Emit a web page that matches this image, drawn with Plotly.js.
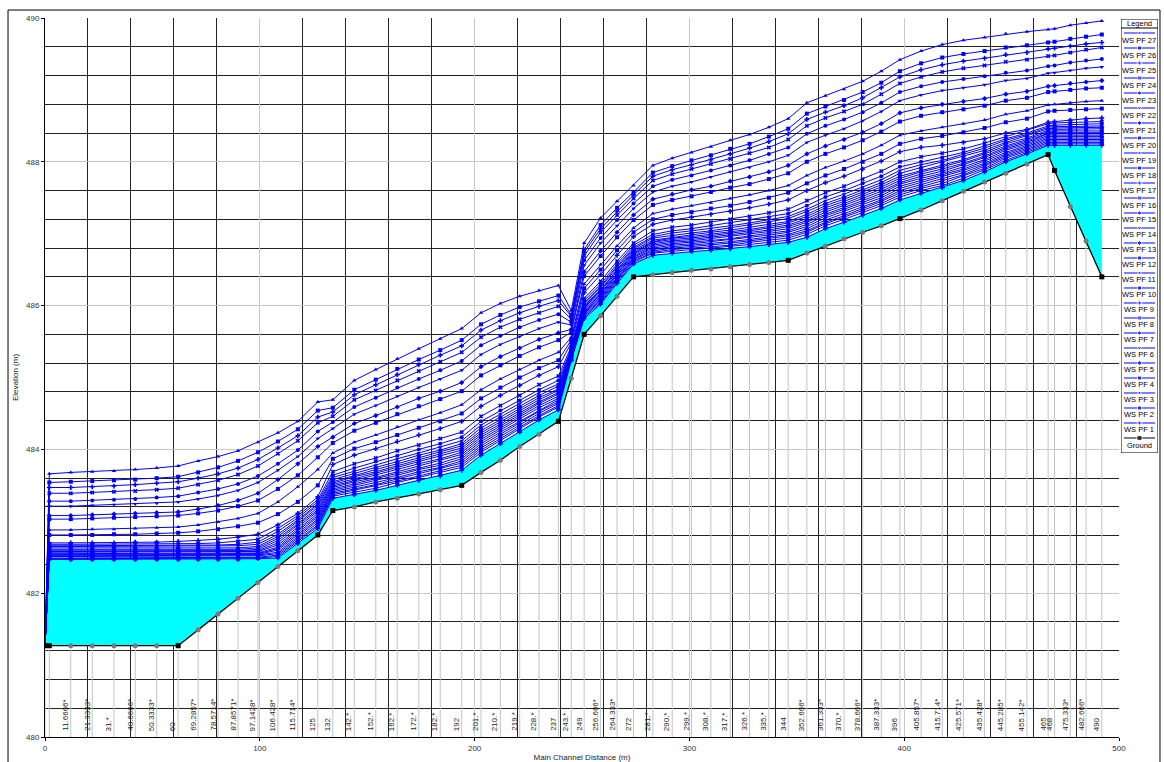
<!DOCTYPE html>
<html><head><meta charset="utf-8">
<script src="https://cdn.plot.ly/plotly-3.0.1.min.js"></script>
<style>html,body{margin:0;padding:0;background:#fff;}#chart{width:1164px;height:762px;}</style>
</head><body><div id="chart"></div>
<script>
// River stations (labels) and their main channel distances (m)
const stationLabels = ['', '', '11.6666*', '21.3333*', '31.*', '40.6666*', '50.3333*', '60', '69.2857*', '78.5714*', '87.8571*', '97.1428*', '106.428*', '115.714*', '125', '132', '142.*', '152.*', '162.*', '172.*', '182.*', '192', '201.*', '210.*', '219.*', '228.*', '237', '243.*', '249', '256.666*', '264.333*', '272', '281.*', '290.*', '299.*', '308.*', '317.*', '326.*', '335.*', '344', '352.666*', '361.333*', '370.*', '378.666*', '387.333*', '396', '405.857*', '415.714*', '425.571*', '435.428*', '445.285*', '455.142*', '465', '468', '475.333*', '482.666*', '490'];
const distances = [0, 2, 12, 22, 32.1, 42, 52, 62, 71.29, 80.57, 89.86, 99.14, 108.43, 117.71, 127, 134, 144, 154, 164, 174, 184, 194, 203, 212, 221, 230, 239, 245, 251, 258.67, 266.33, 274, 283, 292, 301, 310, 319, 328, 337, 346, 354.67, 363.33, 372, 380.67, 389.33, 398, 407.86, 417.71, 427.57, 437.43, 447.29, 457.14, 467, 470, 477.33, 484.67, 492];
const ground = [481.27, 481.27, 481.27, 481.27, 481.27, 481.27, 481.27, 481.27, 481.49, 481.71, 481.93, 482.15, 482.37, 482.59, 482.81, 483.15, 483.20, 483.27, 483.32, 483.38, 483.44, 483.50, 483.68, 483.85, 484.04, 484.21, 484.39, 484.99, 485.60, 485.86, 486.13, 486.40, 486.43, 486.46, 486.49, 486.51, 486.54, 486.57, 486.60, 486.63, 486.73, 486.83, 486.93, 487.02, 487.11, 487.21, 487.33, 487.46, 487.59, 487.72, 487.84, 487.97, 488.10, 487.88, 487.38, 486.90, 486.40];

// Water surface elevations (m) for each profile
const wsPF1 = [481.27, 482.47, 482.47, 482.47, 482.47, 482.47, 482.47, 482.47, 482.47, 482.47, 482.47, 482.48, 482.49, 482.69, 482.90,
 483.32, 483.37, 483.43, 483.50, 483.57, 483.63, 483.71, 483.92, 484.08, 484.24, 484.41, 484.55, 485.24, 485.82, 486.02, 486.31, 486.58,
 486.70, 486.73, 486.75, 486.77, 486.79, 486.82, 486.85, 486.88, 486.95, 487.07, 487.16, 487.26, 487.35, 487.47, 487.56, 487.64, 487.74,
 487.86, 488.00, 488.11, 488.23, 488.23, 488.23, 488.23, 488.23];
const wsPF2 = [481.27, 482.48, 482.48, 482.48, 482.48, 482.48, 482.48, 482.48, 482.48, 482.48, 482.48, 482.49, 482.51, 482.72, 482.93,
 483.35, 483.40, 483.46, 483.54, 483.61, 483.67, 483.75, 483.96, 484.12, 484.28, 484.45, 484.59, 485.25, 485.84, 486.04, 486.33, 486.60,
 486.73, 486.76, 486.78, 486.80, 486.82, 486.85, 486.88, 486.91, 486.99, 487.11, 487.20, 487.30, 487.39, 487.51, 487.60, 487.67, 487.77,
 487.89, 488.02, 488.13, 488.25, 488.25, 488.25, 488.25, 488.25];
const wsPF3 = [481.27, 482.49, 482.49, 482.49, 482.49, 482.49, 482.49, 482.49, 482.49, 482.49, 482.49, 482.50, 482.53, 482.74, 482.95,
 483.37, 483.43, 483.49, 483.56, 483.63, 483.70, 483.78, 483.99, 484.15, 484.31, 484.47, 484.61, 485.26, 485.86, 486.06, 486.35, 486.62,
 486.74, 486.78, 486.80, 486.82, 486.84, 486.88, 486.91, 486.94, 487.02, 487.14, 487.23, 487.33, 487.42, 487.54, 487.63, 487.70, 487.80,
 487.91, 488.05, 488.15, 488.27, 488.27, 488.27, 488.27, 488.27];
const wsPF4 = [481.27, 482.51, 482.51, 482.51, 482.51, 482.51, 482.51, 482.51, 482.51, 482.51, 482.51, 482.52, 482.55, 482.77, 482.98,
 483.39, 483.45, 483.51, 483.59, 483.66, 483.73, 483.81, 484.02, 484.18, 484.34, 484.50, 484.64, 485.28, 485.87, 486.08, 486.37, 486.64,
 486.76, 486.80, 486.82, 486.84, 486.87, 486.90, 486.93, 486.97, 487.04, 487.16, 487.25, 487.35, 487.45, 487.57, 487.65, 487.73, 487.82,
 487.94, 488.07, 488.17, 488.29, 488.29, 488.29, 488.29, 488.29];
const wsPF5 = [481.27, 482.52, 482.52, 482.52, 482.52, 482.52, 482.52, 482.52, 482.52, 482.52, 482.52, 482.53, 482.57, 482.79, 483.01,
 483.41, 483.47, 483.54, 483.61, 483.69, 483.75, 483.84, 484.05, 484.21, 484.36, 484.53, 484.66, 485.29, 485.89, 486.10, 486.38, 486.65,
 486.78, 486.82, 486.84, 486.86, 486.89, 486.92, 486.96, 486.99, 487.07, 487.19, 487.28, 487.38, 487.47, 487.60, 487.68, 487.76, 487.85,
 487.96, 488.09, 488.19, 488.31, 488.31, 488.31, 488.31, 488.31];
const wsPF6 = [481.27, 482.53, 482.53, 482.53, 482.53, 482.53, 482.53, 482.53, 482.53, 482.53, 482.53, 482.54, 482.60, 482.82, 483.03,
 483.43, 483.50, 483.56, 483.64, 483.72, 483.78, 483.87, 484.08, 484.24, 484.39, 484.55, 484.69, 485.30, 485.90, 486.12, 486.40, 486.67,
 486.80, 486.84, 486.86, 486.89, 486.91, 486.95, 486.98, 487.02, 487.10, 487.22, 487.31, 487.41, 487.50, 487.63, 487.71, 487.79, 487.88,
 487.98, 488.11, 488.21, 488.33, 488.33, 488.33, 488.33, 488.33];
const wsPF7 = [481.27, 482.54, 482.54, 482.54, 482.54, 482.54, 482.54, 482.54, 482.54, 482.54, 482.54, 482.55, 482.62, 482.84, 483.06,
 483.45, 483.52, 483.59, 483.67, 483.74, 483.81, 483.90, 484.11, 484.27, 484.42, 484.58, 484.71, 485.31, 485.92, 486.13, 486.42, 486.68,
 486.82, 486.86, 486.88, 486.91, 486.93, 486.97, 487.01, 487.04, 487.13, 487.25, 487.34, 487.44, 487.53, 487.66, 487.74, 487.81, 487.90,
 488.01, 488.13, 488.23, 488.35, 488.35, 488.35, 488.35, 488.35];
const wsPF8 = [481.27, 482.55, 482.55, 482.55, 482.55, 482.55, 482.55, 482.55, 482.55, 482.55, 482.55, 482.56, 482.64, 482.87, 483.08,
 483.47, 483.55, 483.61, 483.69, 483.77, 483.84, 483.93, 484.14, 484.30, 484.45, 484.61, 484.74, 485.32, 485.94, 486.15, 486.44, 486.70,
 486.84, 486.88, 486.90, 486.93, 486.96, 486.99, 487.03, 487.07, 487.16, 487.27, 487.36, 487.46, 487.56, 487.69, 487.77, 487.84, 487.93,
 488.03, 488.16, 488.25, 488.37, 488.37, 488.37, 488.37, 488.37];
const wsPF9 = [481.27, 482.57, 482.57, 482.57, 482.57, 482.57, 482.57, 482.57, 482.57, 482.57, 482.57, 482.58, 482.67, 482.89, 483.11,
 483.49, 483.57, 483.64, 483.72, 483.80, 483.87, 483.96, 484.17, 484.32, 484.48, 484.64, 484.77, 485.33, 485.95, 486.17, 486.45, 486.72,
 486.86, 486.90, 486.92, 486.95, 486.98, 487.02, 487.05, 487.10, 487.18, 487.30, 487.39, 487.49, 487.59, 487.71, 487.80, 487.87, 487.96,
 488.06, 488.18, 488.27, 488.39, 488.39, 488.39, 488.39, 488.39];
const wsPF10 = [481.27, 482.58, 482.58, 482.58, 482.58, 482.58, 482.58, 482.58, 482.58, 482.58, 482.58, 482.59, 482.70, 482.92, 483.14,
 483.51, 483.59, 483.66, 483.75, 483.83, 483.90, 483.99, 484.20, 484.35, 484.51, 484.66, 484.79, 485.34, 485.97, 486.19, 486.47, 486.73,
 486.88, 486.92, 486.94, 486.97, 487.00, 487.04, 487.08, 487.12, 487.21, 487.33, 487.42, 487.52, 487.62, 487.74, 487.83, 487.90, 487.98,
 488.08, 488.20, 488.29, 488.40, 488.41, 488.41, 488.41, 488.41];
const wsPF11 = [481.27, 482.59, 482.59, 482.59, 482.59, 482.59, 482.59, 482.59, 482.59, 482.59, 482.59, 482.61, 482.73, 482.95, 483.16,
 483.53, 483.62, 483.69, 483.77, 483.85, 483.93, 484.02, 484.23, 484.38, 484.53, 484.69, 484.82, 485.35, 485.98, 486.21, 486.49, 486.75,
 486.89, 486.94, 486.96, 486.99, 487.02, 487.06, 487.10, 487.15, 487.24, 487.36, 487.45, 487.55, 487.65, 487.77, 487.86, 487.93, 488.01,
 488.11, 488.22, 488.31, 488.42, 488.43, 488.43, 488.43, 488.43];
const wsPF12 = [481.27, 482.61, 482.61, 482.61, 482.61, 482.61, 482.61, 482.61, 482.61, 482.61, 482.61, 482.63, 482.76, 482.97, 483.19,
 483.55, 483.64, 483.72, 483.80, 483.88, 483.96, 484.05, 484.26, 484.41, 484.56, 484.72, 484.84, 485.36, 486.00, 486.22, 486.50, 486.77,
 486.91, 486.95, 486.99, 487.02, 487.05, 487.09, 487.13, 487.17, 487.27, 487.39, 487.48, 487.58, 487.68, 487.80, 487.88, 487.95, 488.03,
 488.13, 488.25, 488.33, 488.44, 488.45, 488.45, 488.46, 488.46];
const wsPF13 = [481.27, 482.63, 482.63, 482.63, 482.63, 482.63, 482.63, 482.63, 482.63, 482.63, 482.63, 482.65, 482.79, 483.00, 483.22,
 483.58, 483.67, 483.75, 483.83, 483.92, 483.99, 484.08, 484.30, 484.45, 484.60, 484.75, 484.88, 485.37, 486.02, 486.25, 486.53, 486.79,
 486.94, 486.98, 487.01, 487.04, 487.08, 487.12, 487.16, 487.21, 487.31, 487.42, 487.51, 487.61, 487.71, 487.84, 487.92, 487.99, 488.07,
 488.16, 488.27, 488.36, 488.46, 488.47, 488.47, 488.48, 488.48];
const wsPF14 = [481.27, 482.65, 482.65, 482.65, 482.65, 482.65, 482.65, 482.65, 482.65, 482.65, 482.66, 482.68, 482.82, 483.02, 483.24,
 483.61, 483.70, 483.78, 483.87, 483.95, 484.03, 484.12, 484.34, 484.49, 484.64, 484.79, 484.91, 485.39, 486.04, 486.27, 486.55, 486.81,
 486.96, 487.01, 487.04, 487.07, 487.11, 487.15, 487.19, 487.24, 487.34, 487.46, 487.55, 487.65, 487.75, 487.88, 487.96, 488.02, 488.10,
 488.19, 488.30, 488.38, 488.48, 488.49, 488.49, 488.50, 488.50];
const wsPF15 = [481.27, 482.66, 482.66, 482.66, 482.66, 482.66, 482.66, 482.66, 482.66, 482.67, 482.68, 482.71, 482.86, 483.05, 483.27,
 483.64, 483.74, 483.83, 483.91, 484.00, 484.08, 484.17, 484.39, 484.54, 484.68, 484.83, 484.96, 485.40, 486.07, 486.30, 486.58, 486.84,
 486.99, 487.04, 487.07, 487.11, 487.15, 487.19, 487.23, 487.28, 487.39, 487.51, 487.60, 487.70, 487.80, 487.93, 488.00, 488.06, 488.13,
 488.22, 488.32, 488.40, 488.50, 488.51, 488.52, 488.53, 488.53];
const wsPF16 = [481.27, 482.68, 482.68, 482.68, 482.68, 482.68, 482.68, 482.68, 482.69, 482.70, 482.72, 482.75, 482.90, 483.08, 483.30,
 483.69, 483.80, 483.88, 483.98, 484.06, 484.15, 484.24, 484.46, 484.61, 484.75, 484.90, 485.02, 485.43, 486.10, 486.34, 486.62, 486.87,
 487.04, 487.09, 487.12, 487.16, 487.20, 487.24, 487.29, 487.34, 487.46, 487.57, 487.66, 487.76, 487.87, 488.00, 488.07, 488.12, 488.18,
 488.26, 488.35, 488.43, 488.53, 488.54, 488.55, 488.56, 488.56];
const wsPF17 = [481.27, 482.70, 482.70, 482.70, 482.70, 482.71, 482.71, 482.72, 482.73, 482.75, 482.78, 482.82, 482.95, 483.11, 483.34,
 483.79, 483.92, 484.01, 484.11, 484.20, 484.29, 484.39, 484.60, 484.75, 484.89, 485.03, 485.15, 485.48, 486.18, 486.43, 486.70, 486.96,
 487.13, 487.19, 487.23, 487.27, 487.31, 487.36, 487.41, 487.47, 487.60, 487.71, 487.80, 487.90, 488.01, 488.14, 488.20, 488.23, 488.27,
 488.32, 488.40, 488.45, 488.55, 488.56, 488.58, 488.60, 488.61];
const wsPF18 = [481.27, 482.81, 482.81, 482.81, 482.82, 482.82, 482.83, 482.84, 482.86, 482.89, 482.93, 482.98, 483.10, 483.27, 483.50,
 483.87, 484.01, 484.10, 484.20, 484.30, 484.39, 484.50, 484.71, 484.86, 485.00, 485.13, 485.24, 485.52, 486.24, 486.50, 486.77, 487.02,
 487.20, 487.26, 487.30, 487.35, 487.39, 487.44, 487.50, 487.57, 487.70, 487.81, 487.90, 488.00, 488.11, 488.25, 488.32, 488.36, 488.41,
 488.47, 488.55, 488.60, 488.70, 488.71, 488.72, 488.73, 488.74];
const wsPF19 = [481.27, 482.88, 482.88, 482.89, 482.89, 482.90, 482.91, 482.92, 482.95, 482.99, 483.04, 483.11, 483.27, 483.48, 483.72,
 483.95, 484.10, 484.20, 484.31, 484.41, 484.51, 484.62, 484.83, 484.98, 485.11, 485.24, 485.35, 485.56, 486.30, 486.57, 486.83, 487.08,
 487.28, 487.34, 487.39, 487.43, 487.49, 487.54, 487.60, 487.67, 487.81, 487.92, 488.01, 488.11, 488.23, 488.37, 488.43, 488.48, 488.53,
 488.58, 488.66, 488.71, 488.79, 488.80, 488.82, 488.84, 488.85];
const wsPF20 = [481.27, 483.03, 483.03, 483.04, 483.05, 483.06, 483.07, 483.08, 483.11, 483.15, 483.21, 483.29, 483.45, 483.64, 483.89,
 484.09, 484.26, 484.37, 484.49, 484.60, 484.70, 484.81, 485.03, 485.17, 485.30, 485.42, 485.52, 485.63, 486.41, 486.69, 486.95, 487.19,
 487.40, 487.47, 487.52, 487.58, 487.64, 487.69, 487.76, 487.84, 488.00, 488.11, 488.20, 488.30, 488.42, 488.56, 488.64, 488.69, 488.73,
 488.78, 488.85, 488.89, 488.97, 488.98, 489.00, 489.02, 489.03];
const wsPF21 = [481.27, 483.08, 483.08, 483.09, 483.10, 483.11, 483.12, 483.13, 483.17, 483.22, 483.29, 483.39, 483.58, 483.80, 484.04,
 484.17, 484.36, 484.47, 484.59, 484.71, 484.81, 484.93, 485.15, 485.29, 485.41, 485.53, 485.62, 485.67, 486.47, 486.76, 487.02, 487.26,
 487.48, 487.55, 487.61, 487.66, 487.73, 487.79, 487.86, 487.95, 488.11, 488.22, 488.31, 488.41, 488.53, 488.68, 488.75, 488.80, 488.84,
 488.88, 488.94, 488.98, 489.05, 489.06, 489.09, 489.11, 489.13];
const wsPF22 = [481.27, 483.21, 483.21, 483.22, 483.23, 483.24, 483.25, 483.27, 483.31, 483.36, 483.43, 483.54, 483.71, 483.90, 484.15,
 484.29, 484.49, 484.61, 484.74, 484.86, 484.98, 485.10, 485.32, 485.46, 485.57, 485.68, 485.77, 485.73, 486.56, 486.87, 487.11, 487.35,
 487.58, 487.66, 487.72, 487.79, 487.86, 487.92, 488.00, 488.09, 488.27, 488.37, 488.46, 488.57, 488.70, 488.85, 488.93, 488.99, 489.03,
 489.07, 489.13, 489.16, 489.23, 489.24, 489.27, 489.30, 489.32];
const wsPF23 = [481.27, 483.28, 483.28, 483.29, 483.30, 483.31, 483.33, 483.35, 483.40, 483.45, 483.52, 483.63, 483.80, 483.99, 484.25,
 484.38, 484.59, 484.72, 484.86, 484.98, 485.10, 485.23, 485.45, 485.58, 485.70, 485.80, 485.88, 485.77, 486.63, 486.94, 487.19, 487.42,
 487.66, 487.75, 487.81, 487.88, 487.95, 488.02, 488.11, 488.20, 488.39, 488.50, 488.59, 488.69, 488.82, 488.97, 489.05, 489.11, 489.15,
 489.19, 489.24, 489.27, 489.33, 489.34, 489.38, 489.41, 489.43];
const wsPF24 = [481.27, 483.39, 483.39, 483.40, 483.41, 483.42, 483.44, 483.46, 483.51, 483.57, 483.65, 483.77, 483.94, 484.12, 484.37,
 484.46, 484.69, 484.82, 484.96, 485.09, 485.22, 485.35, 485.56, 485.70, 485.81, 485.90, 485.99, 485.81, 486.69, 487.02, 487.26, 487.49,
 487.74, 487.83, 487.90, 487.97, 488.04, 488.12, 488.20, 488.31, 488.50, 488.61, 488.70, 488.80, 488.94, 489.09, 489.18, 489.25, 489.30,
 489.34, 489.39, 489.42, 489.47, 489.48, 489.52, 489.56, 489.59];
const wsPF25 = [481.27, 483.47, 483.47, 483.48, 483.49, 483.51, 483.53, 483.55, 483.60, 483.66, 483.74, 483.86, 484.02, 484.19, 484.45,
 484.52, 484.76, 484.90, 485.04, 485.18, 485.31, 485.44, 485.66, 485.79, 485.90, 485.99, 486.07, 485.85, 486.74, 487.07, 487.31, 487.54,
 487.80, 487.89, 487.96, 488.03, 488.11, 488.19, 488.28, 488.39, 488.59, 488.69, 488.78, 488.89, 489.03, 489.18, 489.28, 489.35, 489.40,
 489.44, 489.49, 489.52, 489.57, 489.58, 489.61, 489.64, 489.66];
const wsPF26 = [481.27, 483.54, 483.55, 483.56, 483.57, 483.58, 483.60, 483.62, 483.68, 483.75, 483.84, 483.96, 484.11, 484.28, 484.54,
 484.58, 484.83, 484.97, 485.12, 485.25, 485.38, 485.52, 485.74, 485.87, 485.98, 486.06, 486.14, 485.87, 486.78, 487.12, 487.36, 487.58,
 487.85, 487.94, 488.02, 488.09, 488.18, 488.25, 488.35, 488.46, 488.67, 488.77, 488.86, 488.97, 489.10, 489.26, 489.37, 489.45, 489.50,
 489.54, 489.59, 489.62, 489.66, 489.67, 489.71, 489.74, 489.77];
const wsPF27 = [481.27, 483.66, 483.68, 483.69, 483.70, 483.72, 483.74, 483.77, 483.84, 483.90, 483.98, 484.10, 484.23, 484.39, 484.66,
 484.69, 484.96, 485.11, 485.26, 485.40, 485.54, 485.68, 485.90, 486.03, 486.13, 486.21, 486.28, 485.93, 486.87, 487.22, 487.45, 487.67,
 487.95, 488.05, 488.13, 488.21, 488.30, 488.38, 488.48, 488.60, 488.82, 488.92, 489.01, 489.12, 489.26, 489.42, 489.54, 489.63, 489.69,
 489.73, 489.78, 489.81, 489.84, 489.85, 489.90, 489.93, 489.96];

const profiles = [wsPF1, wsPF2, wsPF3, wsPF4, wsPF5, wsPF6, wsPF7, wsPF8, wsPF9, wsPF10, wsPF11, wsPF12, wsPF13, wsPF14,
  wsPF15, wsPF16, wsPF17, wsPF18, wsPF19, wsPF20, wsPF21, wsPF22, wsPF23, wsPF24, wsPF25, wsPF26, wsPF27];
const profileNames = profiles.map((p, k) => 'WS PF ' + (k + 1));

const FONT = 'Liberation Sans, Arial, Helvetica, sans-serif';
const BLUE = '#0000FF';
const symbols = ['triangle-up', 'square', 'cross', 'x', 'circle', 'triangle-down', 'diamond', 'square'];
const symFor = k => symbols[(26 - k) % symbols.length];

const traces = [];
// cross-section station lines from the bottom of the plot to the ground
const slx = [], sly = [];
distances.forEach((d, i) => { slx.push(d, d, null); sly.push(480, ground[i], null); });
traces.push({x: slx, y: sly, mode: 'lines', line: {color: '#c4c4c4', width: 1}, hoverinfo: 'skip', showlegend: false});
// cyan water body between ground and lowest profile
traces.push({x: distances, y: ground, mode: 'lines', line: {width: 0, color: 'rgba(0,0,0,0)'}, hoverinfo: 'skip', showlegend: false});
traces.push({x: distances, y: wsPF1, mode: 'lines', fill: 'tonexty', fillcolor: '#00FFFF', line: {width: 0, color: 'rgba(0,0,0,0)'}, hoverinfo: 'skip', showlegend: false});
// water surface profiles
profiles.forEach((p, k) => {
  traces.push({x: distances, y: p, name: profileNames[k], mode: 'lines+markers',
    line: {color: BLUE, width: 1}, marker: {symbol: symFor(k), size: 4, color: BLUE, line: {width: 0}}, showlegend: false});
});
// ground
const isInterp = stationLabels.map(s => s.indexOf('*') >= 0);
traces.push({x: distances, y: ground, name: 'Ground', mode: 'lines+markers',
  line: {color: '#000000', width: 1.3},
  marker: {symbol: isInterp.map(b => b ? 'circle' : 'square'), size: 5, color: isInterp.map(b => b ? '#7a7a7a' : '#000000')},
  showlegend: false});

const annotations = [];
// station labels along the bottom
stationLabels.forEach((s, i) => {
  if (!s) return;
  annotations.push({x: distances[i], y: 480, xref: 'x', yref: 'y', text: s, textangle: -90,
    xanchor: 'right', yanchor: 'bottom', yshift: 4, xshift: 1, showarrow: false,
    font: {size: 8, family: FONT, color: '#222'}});
});

// custom legend (symbol above each name), drawn on a hidden axis pair
const legendNames = profileNames.slice().reverse().concat(['Ground']);
legendNames.forEach((name, i) => {
  const isG = name === 'Ground';
  const rowY = isG ? -438 : -(33 + 15 * i);
  const k = isG ? -1 : 26 - i;
  traces.push({x: [3, 18.5, 34], y: [rowY, rowY, rowY], xaxis: 'x2', yaxis: 'y2', mode: 'lines+markers',
    line: {color: isG ? '#000' : BLUE, width: 1},
    marker: {size: [0, isG ? 5 : 4, 0], symbol: isG ? 'square' : symFor(k), color: isG ? '#000' : BLUE},
    hoverinfo: 'skip', showlegend: false});
  annotations.push({xref: 'x2', yref: 'y2', x: 18.5, y: isG ? -446 : -(40 + 15 * i), text: name, showarrow: false,
    font: {size: 7.5, family: FONT, color: '#000'}});
});
annotations.push({xref: 'x2', yref: 'y2', x: 18.5, y: -23, text: 'Legend', showarrow: false,
  font: {size: 7.5, family: FONT, color: '#000'}});

const shapes = [
  {type: 'rect', xref: 'x2', yref: 'y2', x0: 0, x1: 37, y0: -453, y1: -19, line: {color: '#000', width: 1}},
  {type: 'line', xref: 'x2', yref: 'y2', x0: 0, x1: 37, y0: -28, y1: -28, line: {color: '#000', width: 1}},
  {type: 'rect', xref: 'paper', yref: 'paper', x0: -0.0331, x1: 0.9982, y0: -0.05, y1: 1.0111, line: {color: '#000', width: 1}, layer: 'above'}
];

const layout = {
  width: 1164, height: 762,
  margin: {l: 45, r: 2, t: 18, b: 25},
  paper_bgcolor: '#fff', plot_bgcolor: '#fff',
  font: {family: FONT, size: 8, color: '#333'},
  showlegend: false,
  xaxis: {domain: [0, 0.9615], range: [0, 500], tick0: 0, dtick: 100, showgrid: true, gridcolor: '#c8c8c8', gridwidth: 1,
    minor: {dtick: 20, showgrid: true, gridcolor: '#222', gridwidth: 1},
    ticks: 'outside', ticklen: 3, tickcolor: '#000', showline: true, linecolor: '#000', linewidth: 1, zeroline: false,
    tickfont: {size: 8, color: '#333', family: FONT},
    title: {text: 'Main Channel Distance (m)', font: {size: 8, color: '#222', family: FONT}, standoff: 2}, automargin: false},
  yaxis: {range: [480, 490], tick0: 480, dtick: 2, showgrid: true, gridcolor: '#c8c8c8', gridwidth: 1,
    minor: {dtick: 0.4, showgrid: true, gridcolor: '#222', gridwidth: 1},
    ticks: 'outside', ticklen: 3, tickcolor: '#000', showline: true, linecolor: '#000', linewidth: 1, zeroline: false,
    tickfont: {size: 8, color: '#333', family: FONT},
    title: {text: 'Elevation (m)', font: {size: 8, color: '#222', family: FONT}, standoff: 6}, automargin: false},
  xaxis2: {domain: [0.9633, 0.9964], range: [0, 37], visible: false, anchor: 'y2', fixedrange: true},
  yaxis2: {domain: [0.395, 0.9986], range: [-453, -19], visible: false, anchor: 'x2', fixedrange: true},
  shapes: shapes,
  annotations: annotations
};

Plotly.newPlot('chart', traces, layout, {displayModeBar: false, staticPlot: true});
</script>
</body></html>
